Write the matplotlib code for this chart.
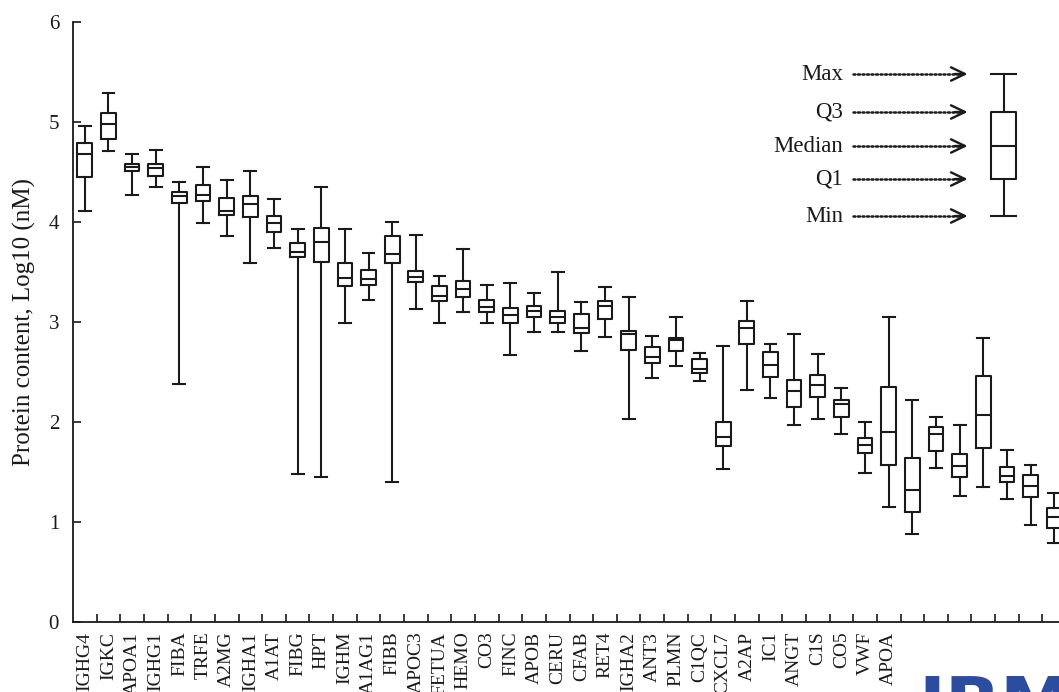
import numpy as np
import matplotlib
matplotlib.use("Agg")
from matplotlib import pyplot as plt

plt.rcParams['font.family'] = ['Liberation Serif', 'DejaVu Serif']

# protein names (labels past APOA are hidden under the logo strip)
names = ['IGHG4', 'IGKC', 'APOA1', 'IGHG1', 'FIBA', 'TRFE', 'A2MG', 'IGHA1',
         'A1AT', 'FIBG', 'HPT', 'IGHM', 'A1AG1', 'FIBB', 'APOC3', 'FETUA',
         'HEMO', 'CO3', 'FINC', 'APOB', 'CERU', 'CFAB', 'RET4', 'IGHA2',
         'ANT3', 'PLMN', 'C1QC', 'CXCL7', 'A2AP', 'IC1', 'ANGT', 'C1S', 'CO5',
         'VWF', 'APOA', '', '', '', '', '', '', '']

# log10 (nM) summary per protein
q_max = [4.96, 5.29, 4.68, 4.72, 4.40, 4.55, 4.42, 4.51, 4.23, 3.93, 4.35,
         3.93, 3.69, 4.00, 3.87, 3.46, 3.73, 3.37, 3.39, 3.29, 3.50, 3.20,
         3.35, 3.25, 2.86, 3.05, 2.69, 2.76, 3.21, 2.78, 2.88, 2.68, 2.34,
         2.00, 3.05, 2.22, 2.05, 1.97, 2.84, 1.72, 1.57, 1.29]
q3 = [4.79, 5.09, 4.58, 4.58, 4.30, 4.37, 4.24, 4.26, 4.06, 3.79, 3.94,
      3.59, 3.52, 3.86, 3.51, 3.36, 3.41, 3.22, 3.14, 3.16, 3.11, 3.08,
      3.21, 2.91, 2.75, 2.84, 2.63, 2.00, 3.01, 2.70, 2.42, 2.47, 2.22,
      1.84, 2.35, 1.64, 1.95, 1.68, 2.46, 1.55, 1.47, 1.14]
med = [4.68, 4.98, 4.55, 4.54, 4.26, 4.27, 4.11, 4.18, 3.99, 3.70, 3.80,
       3.44, 3.43, 3.68, 3.45, 3.26, 3.33, 3.15, 3.07, 3.11, 3.05, 2.94,
       3.16, 2.88, 2.65, 2.82, 2.53, 1.85, 2.94, 2.57, 2.31, 2.37, 2.18,
       1.77, 1.90, 1.32, 1.88, 1.56, 2.07, 1.46, 1.36, 1.05]
q1 = [4.45, 4.83, 4.51, 4.46, 4.19, 4.21, 4.07, 4.05, 3.90, 3.65, 3.60,
      3.36, 3.37, 3.59, 3.40, 3.21, 3.25, 3.10, 2.99, 3.05, 2.99, 2.89,
      3.03, 2.72, 2.59, 2.71, 2.49, 1.76, 2.78, 2.45, 2.15, 2.25, 2.05,
      1.69, 1.57, 1.10, 1.71, 1.45, 1.74, 1.40, 1.25, 0.94]
q_min = [4.11, 4.71, 4.27, 4.35, 2.38, 3.99, 3.86, 3.59, 3.74, 1.48, 1.45,
         2.99, 3.22, 1.40, 3.13, 2.99, 3.10, 2.99, 2.67, 2.90, 2.90, 2.71,
         2.85, 2.03, 2.44, 2.56, 2.41, 1.53, 2.32, 2.24, 1.97, 2.03, 1.88,
         1.49, 1.15, 0.88, 1.54, 1.26, 1.35, 1.23, 0.97, 0.79]

# sample box used as a key
key_labels = ['Max', 'Q3', 'Median', 'Q1', 'Min']
key_values = [5.48, 5.10, 4.76, 4.43, 4.06]

ink = '#1a1a1a'
n = len(names)
pos = np.arange(n) + 0.5

fig = plt.figure(figsize=(10.59, 6.92), dpi=100)
ax = fig.add_axes([73/1059, 70/692, 993/1059, 600/692])

stats = [dict(whishi=hi, q3=a, med=m, q1=b, whislo=lo, fliers=[])
         for hi, a, m, b, lo in zip(q_max, q3, med, q1, q_min)]
lp = dict(color=ink, linewidth=1.5)
ax.bxp(stats, positions=pos, widths=0.62, capwidths=0.5, showfliers=False,
       boxprops=lp, whiskerprops=lp, capprops=lp, medianprops=lp,
       manage_ticks=False)

# key box
kx = 39.37
key = dict(whishi=key_values[0], q3=key_values[1], med=key_values[2],
           q1=key_values[3], whislo=key_values[4], fliers=[])
ax.bxp([key], positions=[kx], widths=1.06, capwidths=1.06, showfliers=False,
       boxprops=lp, whiskerprops=lp, capprops=lp, medianprops=lp,
       manage_ticks=False)
for lab, v in zip(key_labels, key_values):
    ax.text(32.56, v, lab, ha='right', va='center', fontsize=16.5, color=ink)
    ax.plot([32.98, 37.5], [v, v], color=ink, lw=1.8,
            linestyle=(0, (0.8, 1.0)), solid_capstyle='round',
            dash_capstyle='round')
    ax.annotate('', xy=(37.84, v), xytext=(37.3, v),
                arrowprops=dict(arrowstyle='->,head_length=0.5,head_width=0.24',
                                color=ink, lw=1.7, mutation_scale=20,
                                shrinkA=0, shrinkB=0))

ax.set_xlim(0, 42)
ax.set_ylim(0, 6)
ax.spines['top'].set_visible(False)
ax.spines['right'].set_visible(False)
for s in ['left', 'bottom']:
    ax.spines[s].set_color(ink)
    ax.spines[s].set_linewidth(1.3)

ax.set_xticks(np.arange(1, 43))
ax.set_xticklabels([])
ax.set_xticks(pos, names, minor=True, rotation=90, fontsize=14)
ax.tick_params(axis='x', which='major', direction='in', length=6,
               width=1.2, color=ink)
ax.tick_params(axis='x', which='minor', length=0, pad=7, labelcolor=ink)

ax.set_yticks(np.arange(0, 7))
ax.tick_params(axis='y', direction='in', length=6, width=1.2, color=ink,
               labelsize=15, pad=10, labelcolor=ink)
ax.set_ylabel('Protein content, Log10 (nM)', fontsize=18, color=ink,
              labelpad=9)

# publisher logo strip at the bottom edge
fig.text(918/1059, 1 - 674/692, 'IBM', ha='left', va='top', fontsize=52,
         weight='bold', color='#2b4c9f', family='DejaVu Sans')

fig.savefig('out.png', dpi=100)
